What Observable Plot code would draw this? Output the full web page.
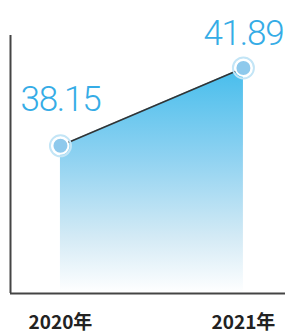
<!DOCTYPE html>
<html><head><meta charset="utf-8">
<script src="https://cdn.jsdelivr.net/npm/d3@7"></script>
<script src="https://cdn.jsdelivr.net/npm/@observablehq/plot@0.6"></script>
<style>
html,body{margin:0;padding:0;background:#fff;}
.val text{letter-spacing:-1.2px;}
</style>
</head><body>
<div id="chart"></div>
<script>
const years = [2020, 2021];
const values = [38.15, 41.89];
const tickLabels = ["2020年", "2021年"];

const data = years.map((y, i) => ({year: y, value: values[i]}));
const xDomain = [2019.727, 2021.23];
const yDomain = [31.05, 43.45];

const plot = Plot.plot({
  width: 285,
  height: 334,
  marginLeft: 10,
  marginRight: 0,
  marginTop: 35,
  marginBottom: 41,
  x: {domain: xDomain},
  y: {domain: yDomain, axis: null},
  style: {background: "#fff"},
  marks: [
    Plot.areaY(data, {x: "year", y1: () => yDomain[0], y2: "value", fill: "url(#areaGrad)"}),
    Plot.line(data, {x: "year", y: "value", stroke: "#333", strokeWidth: 1.6}),
    Plot.dot(data, {x: "year", y: "value", r: 10.5, fill: "none", stroke: "#c3e5f6", strokeWidth: 2}),
    Plot.dot(data, {x: "year", y: "value", r: 8, fill: "#8ec9ec", stroke: "#fff", strokeWidth: 2}),
    Plot.text(data.filter(d => d.year === years[0]), {x: "year", y: "value", text: d => d.value.toFixed(2), dy: -46, fontSize: 35, fill: "#35ace6", fontFamily: "Roboto, sans-serif", fontWeight: 300, textAnchor: "middle", className: "val"}),
    Plot.text(data.filter(d => d.year === years[1]), {x: "year", y: "value", text: d => d.value.toFixed(2), dy: -34, fontSize: 35, fill: "#35ace6", fontFamily: "Roboto, sans-serif", fontWeight: 300, textAnchor: "middle", className: "val"}),
    Plot.ruleX([xDomain[0]], {y1: yDomain[0], y2: yDomain[1], stroke: "#444", strokeWidth: 2}),
    Plot.ruleY([yDomain[0]], {x1: xDomain[0], x2: xDomain[1], stroke: "#444", strokeWidth: 2}),
    Plot.axisX({ticks: years, tickFormat: (d) => tickLabels[years.indexOf(d)], tickSize: 0, tickPadding: 22, fontSize: 19, fontWeight: "bold", fill: "#222", label: null, fontFamily: "'Noto Sans CJK SC', sans-serif"})
  ]
});

const svg = d3.select(plot);
const defs = svg.insert("defs", ":first-child");
const g = defs.append("linearGradient").attr("id", "areaGrad").attr("x1", 0).attr("y1", 0).attr("x2", 0).attr("y2", 1);
g.append("stop").attr("offset", "0%").attr("stop-color", "#46bdec");
g.append("stop").attr("offset", "40%").attr("stop-color", "#8fd2f1");
g.append("stop").attr("offset", "75%").attr("stop-color", "#d3eaf5");
g.append("stop").attr("offset", "100%").attr("stop-color", "#ffffff");

document.getElementById("chart").appendChild(plot);
</script>
</body></html>
